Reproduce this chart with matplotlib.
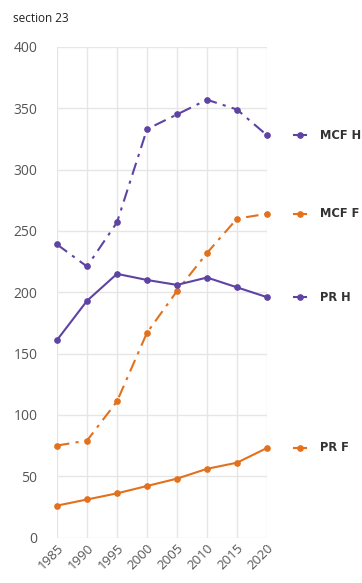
import matplotlib.pyplot as plt
import numpy as np

plt.rcParams['font.family'] = ['Open Sans', 'DejaVu Sans']

# Data
years = [1985, 1990, 1995, 2000, 2005, 2010, 2015, 2020]
mcf_h = [239, 221, 257, 333, 345, 357, 349, 328]
mcf_f = [75, 79, 111, 167, 201, 232, 260, 264]
pr_h = [161, 193, 215, 210, 206, 212, 204, 196]
pr_f = [26, 31, 36, 42, 48, 56, 61, 73]

series_names = ["MCF H", "MCF F", "PR H", "PR F"]
purple = "#5e43a3"
orange = "#e2711d"

series = [
    (mcf_h, purple, (0, (6, 3, 1.5, 3))),
    (mcf_f, orange, (0, (6, 3, 1.5, 3))),
    (pr_h, purple, "-"),
    (pr_f, orange, "-"),
]

fig = plt.figure(figsize=(3.62, 5.83), dpi=100)
ax = fig.add_axes([57 / 362, 1 - 537.5 / 583, 210 / 362, (537.5 - 47) / 583])

for (vals, color, ls), name in zip(series, series_names):
    ax.plot(years, vals, color=color, linestyle=ls, linewidth=1.5,
            marker="o", markersize=3.8, clip_on=False, zorder=3)
    # end label with a small line sample
    tr = ax.get_yaxis_transform()
    ax.plot([1.13, 1.186], [vals[-1], vals[-1]], transform=tr, color=color,
            linewidth=1.5, clip_on=False)
    ax.plot([1.158], [vals[-1]], transform=tr, color=color, marker="o",
            markersize=3.8, clip_on=False)
    ax.text(1.25, vals[-1], name, transform=tr, va="center", ha="left",
            fontsize=8.3, fontweight="bold", color="#333333",
            family="DejaVu Sans")

ax.set_xlim(1985, 2020)
ax.set_ylim(0, 400)
ax.set_xticks(years)
ax.set_xticklabels([str(y) for y in years], rotation=45, ha="right",
                   rotation_mode="anchor", fontsize=9.5, color="#555555")
ax.set_yticks(np.arange(0, 401, 50))
ax.tick_params(axis="y", labelsize=10, labelcolor="#555555", length=0, pad=14)
ax.tick_params(axis="x", length=0, pad=3)

ax.grid(True, color="#e6e6e6", linewidth=1)
ax.set_axisbelow(True)
for s in ax.spines.values():
    s.set_visible(False)

fig.text(13 / 362, 1 - 18 / 583, "section 23", fontsize=8.5, color="#222222",
         va="center", ha="left")

fig.savefig("out.png", dpi=100)
